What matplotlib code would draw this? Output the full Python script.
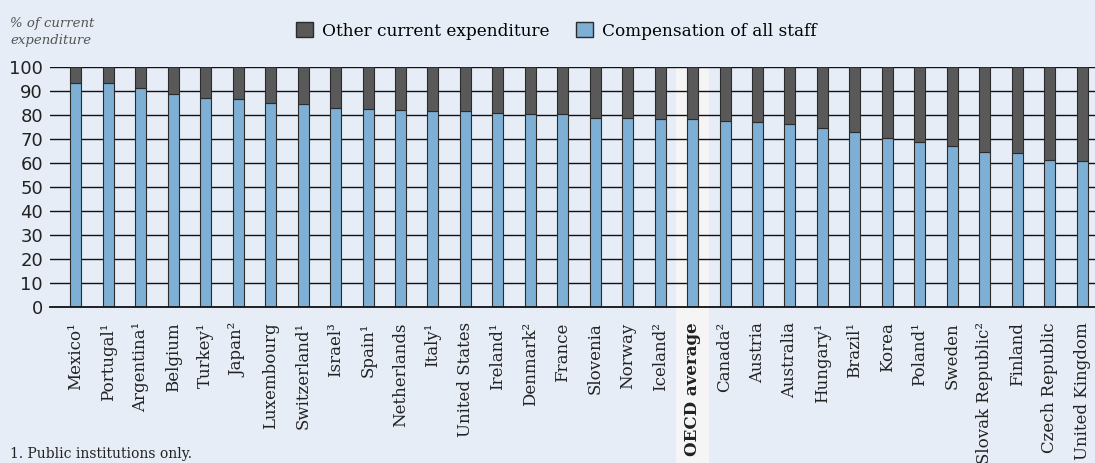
import numpy as np
import matplotlib
matplotlib.use("Agg")
from matplotlib import pyplot as plt
from matplotlib.patches import Patch, Rectangle
import matplotlib.transforms as mtransforms

# Data (share of current expenditure, %)
countries = ["Mexico¹", "Portugal¹", "Argentina¹", "Belgium", "Turkey¹", "Japan²",
             "Luxembourg", "Switzerland¹", "Israel³", "Spain¹", "Netherlands", "Italy¹",
             "United States", "Ireland¹", "Denmark²", "France", "Slovenia", "Norway",
             "Iceland²", "OECD average", "Canada²", "Austria", "Australia", "Hungary¹",
             "Brazil¹", "Korea", "Poland¹", "Sweden", "Slovak Republic²", "Finland",
             "Czech Republic", "United Kingdom"]
compensation = [93.5, 93.2, 91.1, 88.7, 87.1, 86.5, 85.1, 84.4, 83.0, 82.5, 82.2, 81.8,
                81.5, 80.7, 80.6, 80.5, 78.9, 78.9, 78.5, 78.2, 77.5, 77.2, 76.4, 74.7,
                72.9, 70.6, 68.8, 66.9, 64.7, 64.2, 61.2, 60.8]
other = [100 - v for v in compensation]
highlight = "OECD average"

bg = "#e6edf6"
blue = "#7eb0d5"
dark = "#595959"

plt.rcParams['font.family'] = ['DejaVu Serif']

fig = plt.figure(figsize=(10.95, 4.63), dpi=100, facecolor=bg)
ax = fig.add_axes([50 / 1095, 156 / 463, 1045 / 1095, 240 / 463])
ax.set_facecolor(bg)

x = np.arange(len(countries))
hi = countries.index(highlight)

# light band behind the OECD average bar, running down through the labels
trans = mtransforms.blended_transform_factory(ax.transData, ax.transAxes)
ax.add_patch(Rectangle((hi - 0.5, -1.0), 1.0, 2.0, transform=trans,
                       facecolor="#f5f5f5", edgecolor="none", zorder=0, clip_on=False))
ax.patch.set_visible(False)

for yv in range(10, 101, 10):
    ax.axhline(yv, color="#111111", lw=1.0, zorder=1)

w = 0.34
ax.bar(x, compensation, w, color=blue, edgecolor="#2b2b2b", lw=0.8, zorder=3,
       label="Compensation of all staff")
ax.bar(x, other, w, bottom=compensation, color=dark, edgecolor="#2b2b2b", lw=0.8,
       zorder=3, label="Other current expenditure")

ax.set_xlim(-0.8, 31.4)
ax.set_ylim(0, 100)
ax.set_yticks(range(0, 101, 10))
ax.set_xticks(x)
ax.set_xticklabels(countries, rotation=90, fontsize=12, va="top", ha="center")
for lbl in ax.get_xticklabels():
    if lbl.get_text() == highlight:
        lbl.set_fontweight("bold")
ax.tick_params(axis="x", length=0, pad=11, colors="#222222")
ax.tick_params(axis="y", length=0, pad=5, labelsize=13, colors="#222222")
for lbl in ax.get_yticklabels():
    lbl.set_family("DejaVu Sans")

for s in ["top", "right", "left"]:
    ax.spines[s].set_visible(False)
ax.spines["bottom"].set_color("#111111")
ax.spines["bottom"].set_linewidth(1.3)
ax.spines["bottom"].set_zorder(4)

fig.text(10 / 1095, 1 - 17 / 463, "% of current\nexpenditure", fontsize=9.5,
         style="italic", color="#555555", va="top", ha="left", linespacing=1.4)

handles = [Patch(facecolor=dark, edgecolor="#2b2b2b", label="Other current expenditure"),
           Patch(facecolor=blue, edgecolor="#2b2b2b", label="Compensation of all staff")]
fig.legend(handles=handles, loc="center", bbox_to_anchor=(0.508, 1 - 31 / 463), ncol=2,
           frameon=False, fontsize=12.2, handlelength=1.0, handleheight=1.0,
           handletextpad=0.5, columnspacing=1.6)

fig.text(10 / 1095, 2 / 463, "1. Public institutions only.", fontsize=10,
         va="bottom", ha="left", color="#222222")

fig.savefig("out.png", dpi=100, facecolor=bg)
